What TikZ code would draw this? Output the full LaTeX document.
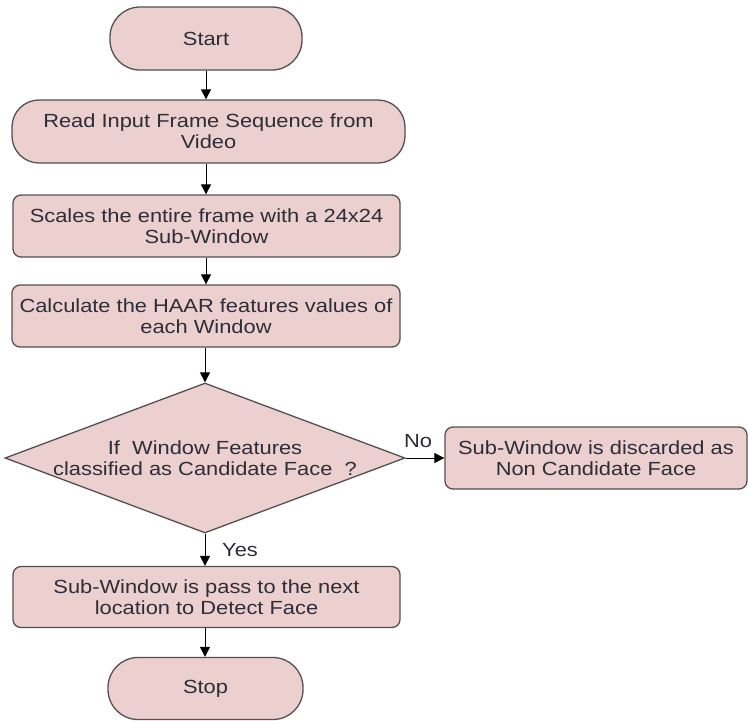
\documentclass[tikz,border=0pt]{standalone}
\usepackage{fontspec}
\setmainfont[FakeStretch=1.15]{Liberation Sans}
\usetikzlibrary{shapes.geometric,arrows.meta}
\definecolor{boxfill}{RGB}{236,208,208}
\definecolor{boxline}{RGB}{85,80,80}
\definecolor{txtcol}{RGB}{45,45,55}
\tikzset{
  box/.style={draw=boxline, fill=boxfill, line width=1.3pt, rounded corners=8pt,
    align=center, inner sep=0pt, font=\fontsize{19}{21}\selectfont, text=txtcol},
  term/.style={box, rounded corners=30pt},
  decision/.style={diamond, draw=boxline, fill=boxfill, line width=1.3pt, inner sep=0pt,
    minimum width=400pt, minimum height=150pt},
  lbl/.style={font=\fontsize{19}{21}\selectfont, text=txtcol, align=center, inner sep=0pt},
  arr/.style={-{Triangle[length=10pt,width=10pt]}, line width=1pt, draw=black}
}
\begin{document}
\begin{tikzpicture}[x=1pt,y=-1pt]
\useasboundingbox (0,0) rectangle (748,721);
\node[term, minimum width=192pt, minimum height=63pt] (start) at (206,38.5) {Start};
\node[box, rounded corners=27pt, minimum width=393pt, minimum height=63pt] (read) at (208.5,131.5) {Read Input Frame Sequence from\\Video};
\node[box, minimum width=387pt, minimum height=62pt] (scales) at (206.5,226) {Scales the entire frame with a 24x24\\Sub-Window};
\node[box, minimum width=388pt, minimum height=62pt] (calc) at (206,316) {Calculate the HAAR features values of\\each Window};
\node[decision] (dec) at (205,458) {};
\node[lbl] (dectext) at (dec.center) {If \ Window Features\\classified as Candidate Face \ ?};
\node[box, minimum width=302pt, minimum height=62pt] (discard) at (596,458) {Sub-Window is discarded as\\Non Candidate Face};
\node[box, minimum width=387pt, minimum height=61pt] (pass) at (206.5,597) {Sub-Window is pass to the next\\location to Detect Face};
\node[term, minimum width=195pt, minimum height=62pt] (stop) at (205.5,688.5) {Stop};
\draw[arr] (start.south) -- (start.south |- read.north);
\draw[arr] (start.south |- read.south) -- (start.south |- scales.north);
\draw[arr] (start.south |- scales.south) -- (start.south |- calc.north);
\draw[arr] (dec.north |- calc.south) -- (dec.north);
\draw[arr] (dec.east) -- (discard.west);
\draw[arr] (dec.south) -- (dec.south |- pass.north);
\draw[arr] (dec.south |- pass.south) -- (dec.south |- stop.north);
\node[lbl] (no) at (418,441) {No};
\node[lbl] (yes) at (240,550) {Yes};
\end{tikzpicture}
\end{document}
